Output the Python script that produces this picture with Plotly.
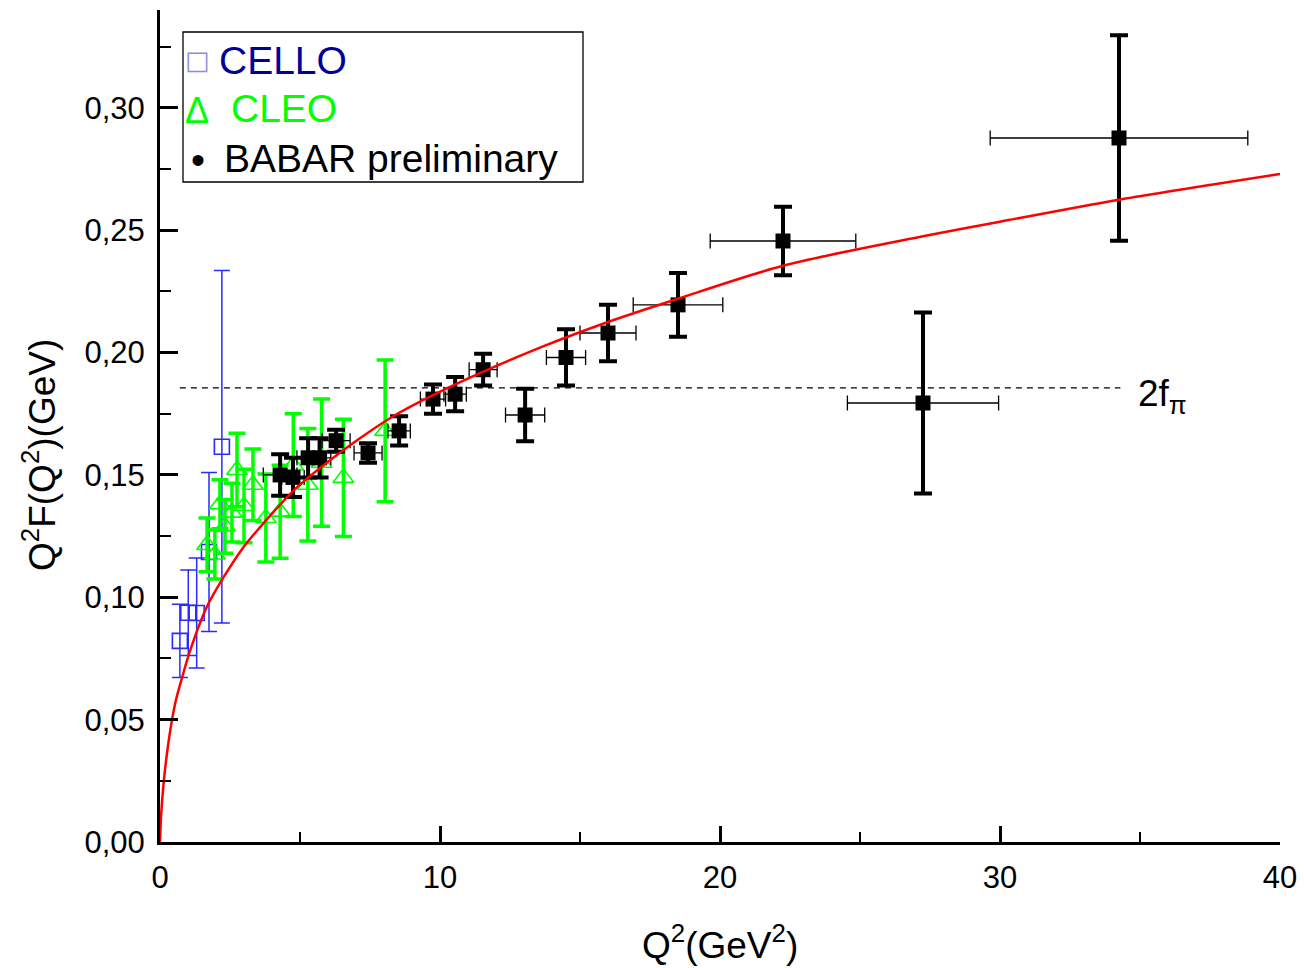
import plotly.graph_objects as go

# ---------------- data ----------------
cello_q2 = [0.71, 1.01, 1.31, 1.75, 2.21]
cello_f = [0.0822, 0.0937, 0.0936, 0.1185, 0.1615]
cello_err = [0.015, 0.0175, 0.0225, 0.0325, 0.072]

cleo_q2 = [1.68, 1.96, 2.14, 2.32, 2.57, 2.75, 3.0, 3.32, 3.78, 4.29, 4.76, 5.28, 5.77, 6.55, 8.04]
cleo_f = [0.1214, 0.1175, 0.138, 0.129, 0.1346, 0.152, 0.1373, 0.146, 0.1324, 0.135, 0.154, 0.146, 0.155, 0.1488, 0.168]
cleo_err = [0.011, 0.010, 0.010, 0.011, 0.012, 0.015, 0.015, 0.0146, 0.018, 0.019, 0.021, 0.023, 0.026, 0.024, 0.029]

babar_q2 = [4.29, 4.75, 5.29, 5.70, 6.29, 7.43, 8.54, 9.75, 10.54, 11.54, 13.04, 14.50, 16.00, 18.50, 22.25, 27.25, 34.25]
babar_f = [0.150, 0.149, 0.157, 0.157, 0.164, 0.159, 0.168, 0.181, 0.183, 0.193, 0.1745, 0.198, 0.208, 0.2195, 0.2456, 0.1794, 0.2877]
babar_ferr = [0.0085, 0.008, 0.008, 0.008, 0.0045, 0.004, 0.006, 0.006, 0.007, 0.0065, 0.0107, 0.0115, 0.0115, 0.013, 0.014, 0.037, 0.042]
babar_q2err = [0.6, 0.4, 0.4, 0.4, 0.5, 0.5, 0.4, 0.45, 0.4, 0.5, 0.7, 0.7, 1.0, 1.6, 2.6, 2.7, 4.6]

fit_q2 = [0.0, 0.04, 0.14, 0.27, 0.43, 0.57, 0.71, 1.07, 1.67, 2.26, 2.98, 3.6, 4.3, 4.9,
          6.07, 7.14, 8.33, 10.36, 13.57, 16.0, 18.5, 22.25, 27.25, 30.0, 34.25, 40.0]
fit_f = [0.0, 0.011, 0.0253, 0.038, 0.050, 0.058, 0.064, 0.078, 0.096, 0.108, 0.1205, 0.129, 0.138, 0.145,
         0.156, 0.165, 0.174, 0.186, 0.202, 0.2125, 0.222, 0.2355, 0.2475, 0.2535, 0.2625, 0.273]

two_fpi = 0.1856
two_fpi_range = [0.71, 34.3]

x_ticks = [0, 10, 20, 30, 40]
x_ticktext = ["0", "10", "20", "30", "40"]
y_ticks = [0.0, 0.05, 0.10, 0.15, 0.20, 0.25, 0.30]
y_ticktext = ["0,00", "0,05", "0,10", "0,15", "0,20", "0,25", "0,30"]

legend_labels = ["CELLO", "CLEO", "BABAR preliminary"]

# ---------------- layout constants ----------------
W, H = 1304, 968
ML, MR, MT, MB = 160, 24, 10, 126
PW, PH = W - ML - MR, H - MT - MB
FONT = "Liberation Sans, Arial, sans-serif"


def px(xp):
    return (xp - ML) / PW


def py(yp):
    return (H - MB - yp) / PH


fig = go.Figure()

# dashed 2 f_pi line
fig.add_trace(go.Scatter(
    x=two_fpi_range, y=[two_fpi, two_fpi], mode="lines",
    line=dict(color="black", width=1.2, dash="6px,5px"), hoverinfo="skip", showlegend=False))

# CELLO
fig.add_trace(go.Scatter(
    x=cello_q2, y=cello_f, mode="markers",
    marker=dict(symbol="square-open", size=15, color="#2a2aff", line=dict(width=1.6, color="#2a2aff")),
    error_y=dict(type="data", array=cello_err, color="#2a2aff", thickness=1.5, width=8),
    showlegend=False))

# CLEO
fig.add_trace(go.Scatter(
    x=cleo_q2, y=cleo_f, mode="markers",
    marker=dict(symbol="triangle-up-open", size=18, color="#00ff00", line=dict(width=1.6, color="#00ff00")),
    error_y=dict(type="data", array=cleo_err, color="#00ff00", thickness=3.5, width=8.5),
    showlegend=False))

# BABAR
fig.add_trace(go.Scatter(
    x=babar_q2, y=babar_f, mode="markers",
    marker=dict(symbol="square", size=15, color="black"),
    error_y=dict(type="data", array=babar_ferr, color="black", thickness=4, width=9),
    error_x=dict(type="data", array=babar_q2err, color="black", thickness=1.3, width=7.5),
    showlegend=False))

# fit curve
fig.add_trace(go.Scatter(
    x=fit_q2, y=fit_f, mode="lines", line=dict(color="red", width=2.5, shape="spline", smoothing=0.8),
    hoverinfo="skip", showlegend=False))

axis_common = dict(
    showgrid=False, zeroline=False, showline=True, linecolor="black", linewidth=3,
    ticks="inside", tickcolor="black", tickwidth=2.5, automargin=False,
    tickfont=dict(family=FONT, size=31, color="black"),
)

fig.update_xaxes(
    range=[0, 40], tickvals=x_ticks, ticktext=x_ticktext, ticklen=16, ticklabelstandoff=6,
    minor=dict(ticks="inside", ticklen=10, tickwidth=2, tickcolor="black", dtick=5, tick0=0),
    **axis_common)
fig.update_yaxes(
    range=[0, 0.34], tickvals=y_ticks, ticktext=y_ticktext, ticklen=18, ticklabelstandoff=6,
    minor=dict(ticks="inside", ticklen=11, tickwidth=2, tickcolor="black", dtick=0.025, tick0=0),
    **axis_common)

annotations = [
    # axis titles
    dict(x=px(720), y=py(942), xref="paper", yref="paper",
         text="Q<sup>2</sup>(GeV<sup>2</sup>)", showarrow=False,
         font=dict(family=FONT, size=37, color="black"), xanchor="center", yanchor="middle"),
    dict(x=px(40), y=py(455), xref="paper", yref="paper",
         text="Q<sup>2</sup>F(Q<sup>2</sup>)(GeV)", showarrow=False, textangle=-90,
         font=dict(family=FONT, size=37, color="black"), xanchor="center", yanchor="middle"),
    # 2 f_pi label
    dict(x=px(1136), y=py(396), xref="paper", yref="paper",
         text="2f<sub>π</sub>", showarrow=False,
         font=dict(family=FONT, size=37, color="black"), xanchor="left", yanchor="middle"),
    # legend symbols
    dict(x=px(197), y=py(60), xref="paper", yref="paper", text="□", showarrow=False,
         font=dict(family="DejaVu Sans", size=26, color="#8c8ce6"), xanchor="center", yanchor="middle"),
    dict(x=px(197), y=py(110), xref="paper", yref="paper", text="Δ", showarrow=False,
         font=dict(family=FONT, size=36, color="#00ff00"), xanchor="center", yanchor="middle"),
    dict(x=px(198), y=py(160), xref="paper", yref="paper", text="•", showarrow=False,
         font=dict(family=FONT, size=40, color="black"), xanchor="center", yanchor="middle"),
    # legend labels
    dict(x=px(217), y=py(60), xref="paper", yref="paper", text=legend_labels[0], showarrow=False,
         font=dict(family=FONT, size=39, color="#000099"), xanchor="left", yanchor="middle"),
    dict(x=px(229), y=py(109), xref="paper", yref="paper", text=legend_labels[1], showarrow=False,
         font=dict(family=FONT, size=39, color="#00ff00"), xanchor="left", yanchor="middle"),
    dict(x=px(222), y=py(158), xref="paper", yref="paper", text=legend_labels[2], showarrow=False,
         font=dict(family=FONT, size=39, color="black"), xanchor="left", yanchor="middle"),
]

shapes = [
    dict(type="rect", xref="paper", yref="paper", x0=px(183), x1=px(583), y0=py(182), y1=py(32),
         line=dict(color="black", width=1.3), fillcolor="rgba(0,0,0,0)"),
]

fig.update_layout(
    width=W, height=H, margin=dict(l=ML, r=MR, t=MT, b=MB, autoexpand=False),
    plot_bgcolor="white", paper_bgcolor="white",
    annotations=annotations, shapes=shapes, showlegend=False,
)

fig.write_html("out.html")
